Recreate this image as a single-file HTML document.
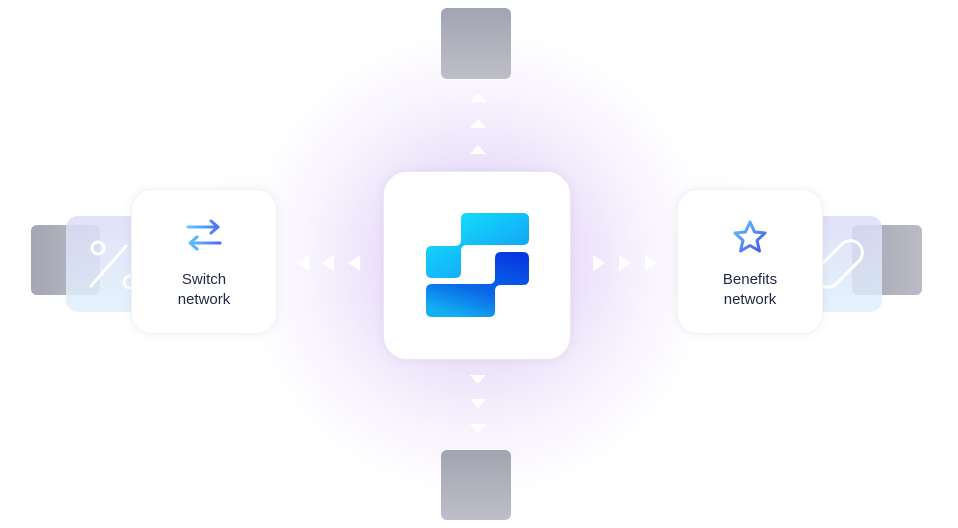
<!DOCTYPE html>
<html style="overflow:hidden;width:958px;height:528px"><head><style>
body{margin:0;width:958px;height:528px;background:#fff;position:relative;overflow:hidden;font-family:"Liberation Sans",sans-serif}
.a{position:absolute}
.glow{left:198px;top:-17px;width:560px;height:560px;border-radius:50%;background:radial-gradient(circle closest-side,rgba(196,164,240,.7) 0%,rgba(210,188,245,.5) 30%,rgba(228,215,250,.28) 60%,rgba(245,240,253,.1) 82%,rgba(255,255,255,0) 100%)}
.gray{background:linear-gradient(180deg,#a2a4b1,#bdbec9);border-radius:6px}
.gray2{background:linear-gradient(90deg,#a4a6b3,#babbc6);border-radius:6px}
.light{border-radius:12px;background:linear-gradient(180deg,#dcdcf8,#dff0fb);opacity:.85}
.card{background:#fff;border-radius:20px;box-shadow:0 0 10px rgba(0,0,0,.06);border:1px solid #f2f2f4;text-align:center;color:#1f2744;font-size:15px;line-height:20px}
</style></head><body>
<div class="a glow"></div>
<div class="a gray" style="left:441px;top:8px;width:70px;height:71px"></div>
<div class="a gray" style="left:441px;top:450px;width:70px;height:70px"></div>
<div class="a gray2" style="left:31px;top:225px;width:69px;height:70px"></div>
<div class="a light" style="left:66px;top:216px;width:80px;height:96px"></div>
<svg class="a" style="left:86px;top:236px" width="50" height="60"><circle cx="12" cy="12" r="6" fill="none" stroke="#fff" stroke-width="3"/><line x1="5" y1="50" x2="40" y2="10" stroke="#fff" stroke-width="3" stroke-linecap="round"/><circle cx="44" cy="46" r="6" fill="none" stroke="#fff" stroke-width="3"/></svg>
<div class="a gray2" style="left:852px;top:225px;width:70px;height:70px"></div>
<div class="a light" style="left:810px;top:216px;width:72px;height:96px"></div>
<svg class="a" style="left:815px;top:238px" width="50" height="60"><rect x="-4" y="14" width="56" height="24" rx="12" transform="rotate(-45 24 26)" fill="none" stroke="#fff" stroke-width="3"/></svg>
<div class="a card" style="left:131px;top:189px;width:144px;height:143px"><svg width="40" height="40" style="margin-top:28px"><defs><linearGradient id="g1" x1="0" x2="1"><stop offset="0" stop-color="#5ec8fb"/><stop offset="1" stop-color="#4c6cf5"/></linearGradient></defs><path d="M4 9H34M27 3L34 9L27 15M36 25H6M13 19L6 25L13 31" fill="none" stroke="url(#g1)" stroke-width="3" stroke-linecap="round" stroke-linejoin="round"/></svg><div style="margin-top:6px">Switch<br>network</div></div>
<div class="a card" style="left:677px;top:189px;width:144px;height:143px"><svg width="40" height="40" style="margin-top:28px"><defs><linearGradient id="g2" x1="0" x2="1" y1="0" y2="1"><stop offset="0" stop-color="#5ec8fb"/><stop offset="1" stop-color="#4c50f0"/></linearGradient></defs><path d="M20 4L24.5 14L35 15L27 22.5L29.5 33L20 27.5L10.5 33L13 22.5L5 15L15.5 14Z" fill="none" stroke="url(#g2)" stroke-width="3" stroke-linejoin="round"/></svg><div style="margin-top:6px">Benefits<br>network</div></div>
<div class="a card" style="left:383px;top:171px;width:186px;height:187px;border-radius:24px;border-color:#ece4f7"></div>
<svg class="a" style="left:420px;top:208px" width="115" height="115"><defs><linearGradient id="l1" x1="0" y1="0" x2="1" y2="1"><stop offset="0" stop-color="#14eafc"/><stop offset="1" stop-color="#1290f5"/></linearGradient><linearGradient id="l2" x1="0.8" y1="0" x2="0.3" y2="1"><stop offset="0" stop-color="#0538e0"/><stop offset="0.6" stop-color="#0a6ae8"/><stop offset="1" stop-color="#12b0f2"/></linearGradient></defs>
<path d="M47 5H103Q109 5 109 11V31Q109 37 103 37H47Q41 37 41 43V64Q41 70 35 70H12Q6 70 6 64V44Q6 38 12 38H35Q41 38 41 32V11Q41 5 47 5Z" fill="url(#l1)"/>
<path d="M81 44H103Q109 44 109 50V71Q109 77 103 77H81Q75 77 75 83V103Q75 109 69 109H12Q6 109 6 103V82Q6 76 12 76H69Q75 76 75 70V50Q75 44 81 44Z" fill="url(#l2)"/></svg>
<svg class="a" style="left:0;top:0" width="958" height="528" fill="#fff">
<path d="M470 102L478 93L486 102Z"/><path d="M470 128L478 119L486 128Z"/><path d="M470 154L478 145L486 154Z"/>
<path d="M470 375L478 384L486 375Z"/><path d="M470 399L478 408L486 399Z"/><path d="M470 424L478 433L486 424Z"/>
<path d="M309 255L297 263L309 271Z"/><path d="M334 255L322 263L334 271Z"/><path d="M360 255L348 263L360 271Z"/>
<path d="M593 255L605 263L593 271Z"/><path d="M619 255L631 263L619 271Z"/><path d="M645 255L657 263L645 271Z"/>
</svg>
</body></html>
